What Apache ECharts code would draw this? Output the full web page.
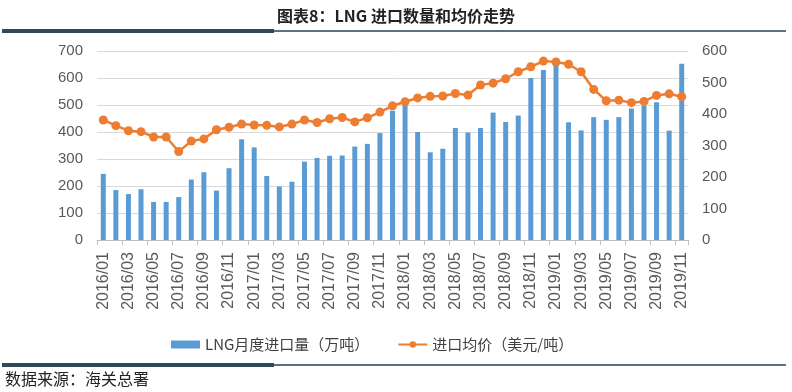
<!DOCTYPE html>
<html><head><meta charset="utf-8">
<script src="https://cdn.jsdelivr.net/npm/echarts@6/dist/echarts.min.js"></script>
<style>html,body{margin:0;padding:0;background:#fff}#c{width:792px;height:392px}</style>
</head><body><div id="c"></div>
<script>
const categories = ['2016/01','2016/02','2016/03','2016/04','2016/05','2016/06','2016/07','2016/08','2016/09','2016/10','2016/11','2016/12',
'2017/01','2017/02','2017/03','2017/04','2017/05','2017/06','2017/07','2017/08','2017/09','2017/10','2017/11','2017/12',
'2018/01','2018/02','2018/03','2018/04','2018/05','2018/06','2018/07','2018/08','2018/09','2018/10','2018/11','2018/12',
'2019/01','2019/02','2019/03','2019/04','2019/05','2019/06','2019/07','2019/08','2019/09','2019/10','2019/11'];
const volume = [245,185,170,188,141,141,159,224,251,183,266,373,
343,237,198,216,290,304,312,313,346,356,396,479,
498,400,325,338,415,398,415,472,437,461,600,630,
645,436,406,455,445,455,487,497,510,405,653];
const price = [381,363,347,344,327,327,281,314,321,350,358,368,
365,364,359,368,381,373,385,389,375,388,406,426,
439,451,456,457,465,460,492,498,512,534,550,568,
565,558,534,478,442,444,436,440,459,464,455];
const leftTicks = [0,700,100];
const rightTicks = [0,600,100];

const chart = echarts.init(document.getElementById('c'));
const axisLabel = {color:'#595959', fontSize:15, fontFamily:'Liberation Sans, Arial'};
chart.setOption({
  animation:false,
  title:{text:'图表8：LNG 进口数量和均价走势', left:'center', top:3,
    textStyle:{fontSize:16, fontWeight:'bold', color:'#222', fontFamily:'Noto Sans CJK SC'}},
  graphic:[
    {type:'rect', shape:{x:2,y:29,width:272,height:4}, style:{fill:'#2E4A57'}},
    {type:'rect', shape:{x:274,y:30,width:512,height:2}, style:{fill:'#5C7280'}},
    {type:'rect', shape:{x:2,y:363,width:272,height:4}, style:{fill:'#2E4A57'}},
    {type:'rect', shape:{x:274,y:364,width:512,height:2}, style:{fill:'#5C7280'}},
    {type:'text', left:5, top:371, style:{text:'数据来源：海关总署', fontSize:16, fill:'#222', fontFamily:'Noto Sans CJK SC'}}
  ],
  legend:{top:332, left:166, itemGap:28, itemWidth:29, itemHeight:8,
    textStyle:{color:'#404040', fontSize:15, fontFamily:'Noto Sans CJK SC'},
    data:[{name:'LNG月度进口量（万吨）', icon:'rect'},{name:'进口均价（美元/吨）'}]},
  grid:{left:97, right:104, top:51, bottom:152},
  xAxis:{type:'category', data:categories, boundaryGap:true,
    axisLine:{lineStyle:{color:'#BFBFBF'}},
    axisTick:{show:true, interval:1, lineStyle:{color:'#BFBFBF'}, length:5},
    axisLabel:Object.assign({rotate:90, interval:1, margin:12}, axisLabel, {fontSize:16})},
  yAxis:[
    {type:'value', min:leftTicks[0], max:leftTicks[1], interval:leftTicks[2],
     axisLabel:Object.assign({margin:14}, axisLabel), axisLine:{show:false}, axisTick:{show:false},
     splitLine:{lineStyle:{color:'#D9D9D9'}}},
    {type:'value', min:rightTicks[0], max:rightTicks[1], interval:rightTicks[2],
     axisLabel:Object.assign({margin:14}, axisLabel), axisLine:{show:false}, axisTick:{show:false},
     splitLine:{show:false}}
  ],
  series:[
    {name:'LNG月度进口量（万吨）', type:'bar', data:volume, yAxisIndex:0, barWidth:5,
     itemStyle:{color:'#5B9BD5'}},
    {name:'进口均价（美元/吨）', type:'line', data:price, yAxisIndex:1, symbol:'circle', symbolSize:9,
     showAllSymbol:true,
     lineStyle:{color:'#ED7D31', width:2.5}, itemStyle:{color:'#ED7D31'}}
  ]
});
</script></body></html>
